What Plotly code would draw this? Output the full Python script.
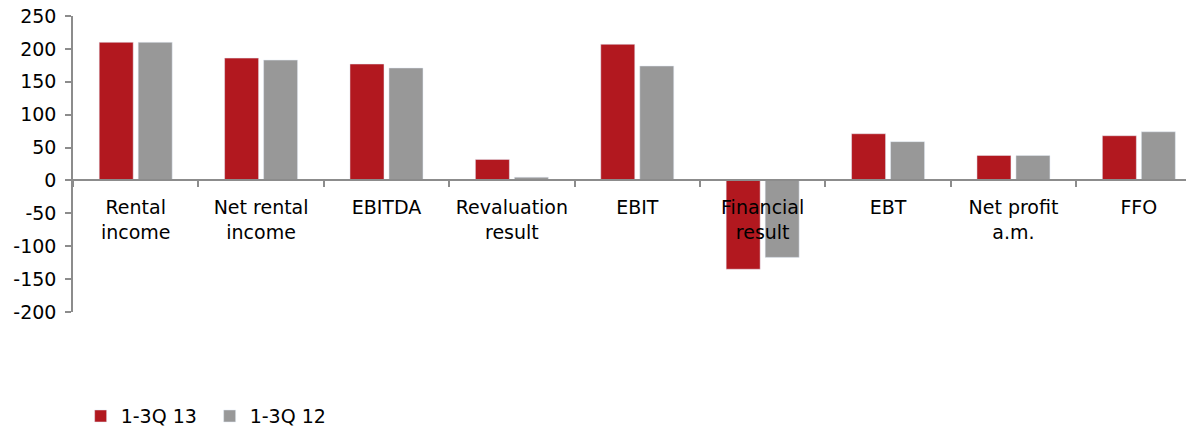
import plotly.graph_objects as go

categories = [
    "Rental<br>income", "Net rental<br>income", "EBITDA", "Revaluation<br>result",
    "EBIT", "Financial<br>result", "EBT", "Net profit<br>a.m.", "FFO",
]
series_2013 = [210, 186, 177, 32, 207, -135, 71, 38, 68]
series_2012 = [210, 183, 171, 5, 174, -117, 59, 38, 74]
y_ticks = [250, 200, 150, 100, 50, 0, -50, -100, -150, -200]
y_tick_labels = ["250", "200", "150", "100", "50", "0", "-50", "-100", "-150", "-200"]

RED = "#B2181F"
GREY = "#989898"
AXIS = "#8C8C8C"
FONT = "DejaVu Sans, Verdana, sans-serif"

fig = go.Figure()
fig.add_trace(go.Bar(name="1-3Q 13", x=categories, y=series_2013, marker_color=RED))
fig.add_trace(go.Bar(name="1-3Q 12", x=categories, y=series_2012, marker_color=GREY))

fig.update_layout(
    width=1186, height=429,
    margin=dict(l=73, r=0, t=16, b=117),
    paper_bgcolor="white", plot_bgcolor="white",
    font=dict(family=FONT, size=19, color="#000000"),
    barmode="group", bargap=0.378, bargroupgap=0.128,
    showlegend=True,
    legend=dict(
        orientation="h", xref="container", yref="container",
        x=0.068, y=0.03, xanchor="left", yanchor="middle",
        font=dict(size=19), itemwidth=30, traceorder="normal",
        entrywidth=84, entrywidthmode="pixels",
    ),
    xaxis=dict(
        type="category", range=[-0.5, 8.376],
        anchor="free", position=200 / 450,
        showline=True, linecolor=AXIS, linewidth=1.5,
        ticks="outside", tickson="boundaries", ticklen=6, tickcolor=AXIS, tickwidth=1.5,
        showgrid=False, zeroline=False, tickangle=0, automargin=False,
        ticklabelstandoff=10,
        tickfont=dict(size=19),
    ),
    yaxis=dict(
        range=[-200, 250], tickvals=y_ticks, ticktext=y_tick_labels,
        showline=True, linecolor=AXIS, linewidth=1.5,
        ticks="outside", ticklen=6, tickcolor=AXIS, tickwidth=1.5,
        showgrid=False, zeroline=False, automargin=False,
        ticklabelstandoff=5,
        tickfont=dict(size=19),
    ),
)

fig.write_html("out.html")
